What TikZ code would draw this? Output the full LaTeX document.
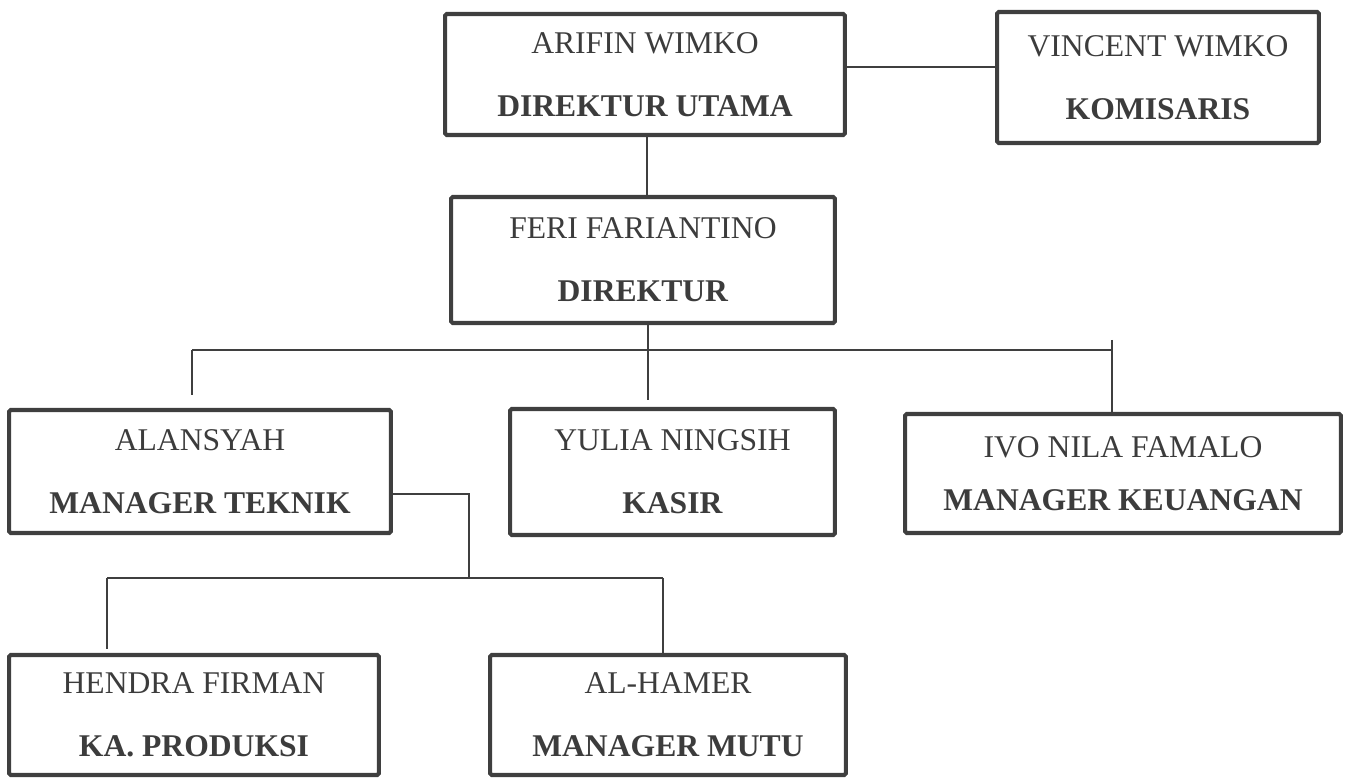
\documentclass[tikz,border=0pt]{standalone}
\usepackage{fontspec}
\setmainfont{Liberation Serif}
\usetikzlibrary{positioning,calc}
\definecolor{garisabu}{HTML}{3F3F3F}
\definecolor{teksabu}{HTML}{3C3C3C}
\tikzset{
    jabatan/.style={draw=garisabu,line width=2.3pt,rounded corners=1pt,rectangle,inner sep=0pt,align=center,text=teksabu,font=\fontsize{18}{36}\selectfont},
}
\begin{document}
\begin{tikzpicture}[x=0.02cm,y=-0.02cm,garis/.style={draw=garisabu,line width=0.7pt}]
            \useasboundingbox (0,0) rectangle (1350,780);
            \node[jabatan,minimum width=8cm,minimum height=2.42cm] (dirut) at (645,74.5) {ARIFIN WIMKO\\\textbf{DIREKTUR UTAMA}};
            \node[jabatan,minimum width=6.44cm,minimum height=2.62cm] (komisaris) at (1158,77.5) {VINCENT WIMKO\\\textbf{KOMISARIS}};
            \node[jabatan,minimum width=7.68cm,minimum height=2.52cm] (direktur) at (643,260) {FERI FARIANTINO\\\textbf{DIREKTUR}};
            \node[jabatan,minimum width=7.64cm,minimum height=2.46cm] (mteknik) at (200,471.5) {ALANSYAH\\\textbf{MANAGER TEKNIK}};
            \node[jabatan,minimum width=6.5cm,minimum height=2.52cm] (kasir) at (672.5,472) {YULIA NINGSIH\\\textbf{KASIR}};
            \node[jabatan,minimum width=8.72cm,minimum height=2.38cm] (mkeuangan) at (1123,473.5) {IVO NILA FAMALO\\[-6pt]\textbf{MANAGER KEUANGAN}};
            \node[jabatan,minimum width=7.4cm,minimum height=2.4cm] (kaprod) at (194,715) {HENDRA FIRMAN\\\textbf{KA. PRODUKSI}};
            \node[jabatan,minimum width=7.12cm,minimum height=2.4cm] (mmutu) at (668,715) {AL-HAMER\\\textbf{MANAGER MUTU}};

            \coordinate (busL) at (192,350);
            \coordinate (busR) at (1112,340);
            \coordinate (cabang) at (469,578);
            \coordinate (cabL) at (107,578);
            \coordinate (cabR) at (663,578);

            \draw[garis] (dirut.east |- 0,67) -- (komisaris.west |- 0,67);
            \draw[garis] ($(dirut.south)+(2,0)$) -- ($(dirut.south |- direktur.north)+(2,0)$);
            \draw[garis] ($(direktur.south)+(5,0)$) -- ($(direktur.south |- kasir.north)+(5,-7)$);
            \draw[garis] (busL) -- (busR |- busL);
            \draw[garis] (busL) -- ($(busL |- mteknik.north)+(0,-13)$);
            \draw[garis] (busR) -- (busR |- mkeuangan.north);
            \draw[garis] (mteknik.east |- 0,494) -| (cabang);
            \draw[garis] (cabL) -- (cabR);
            \draw[garis] (cabL) -- ($(cabL |- kaprod.north)+(0,-4)$);
            \draw[garis] (cabR) -- (cabR |- mmutu.north);
        \end{tikzpicture}
\end{document}
